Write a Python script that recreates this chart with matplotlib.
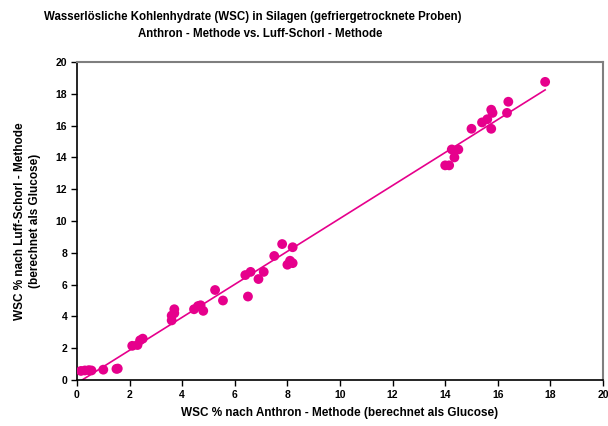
import matplotlib
matplotlib.use('Agg')
import matplotlib.pyplot as plt
import numpy as np

plt.rcParams['font.family'] = ['Liberation Sans', 'DejaVu Sans']

# WSC-Werte: Anthron (x) gegen Luff-Schorl (y), % TM
anthron = [0.15, 0.3, 0.45, 0.55, 1.0, 1.5, 1.55,
           2.1, 2.3, 2.4, 2.5,
           3.6, 3.6, 3.7, 3.7,
           4.45, 4.6, 4.7, 4.8, 5.25, 5.55,
           6.4, 6.5, 6.6, 6.9, 7.1, 7.5, 7.8, 8.0, 8.1, 8.2, 8.2,
           14.0, 14.15, 14.25, 14.35, 14.5,
           15.0, 15.4, 15.6, 15.75, 15.75, 15.8, 16.35, 16.4, 17.8]
luff = [0.57, 0.6, 0.62, 0.6, 0.65, 0.7, 0.72,
        2.15, 2.2, 2.5, 2.6,
        3.75, 4.05, 4.45, 4.2,
        4.45, 4.65, 4.7, 4.35, 5.66, 5.0,
        6.6, 5.25, 6.8, 6.35, 6.8, 7.8, 8.55, 7.25, 7.5, 7.35, 8.35,
        13.5, 13.5, 14.5, 14.0, 14.5,
        15.8, 16.2, 16.4, 17.0, 15.8, 16.8, 16.8, 17.5, 18.75]

pink = '#E6008C'

fig = plt.figure(figsize=(6.08, 4.26), dpi=100)
ax = fig.add_axes([77/608, 1-380/426, 526/608, 318/426])

ax.scatter(anthron, luff, s=50, color=pink, edgecolors='none', zorder=3)

# lineare Trendlinie
k, d = np.polyfit(anthron, luff, 1)
xs = np.array([min(anthron), max(anthron)])
ax.plot(xs, k * xs + d, color=pink, lw=1.2, zorder=2)

ax.set_xlim(0, 20)
ax.set_ylim(0, 20)
ax.set_xticks(np.arange(0, 21, 2))
ax.set_yticks(np.arange(0, 21, 2))
ax.tick_params(direction='out', length=4, width=1, labelsize=7.5, pad=3)
for lab in ax.get_xticklabels() + ax.get_yticklabels():
    lab.set_fontweight('bold')

for s in ['left', 'bottom']:
    ax.spines[s].set_color('black')
    ax.spines[s].set_linewidth(1.2)
for s in ['top', 'right']:
    ax.spines[s].set_color('#7f7f7f')
    ax.spines[s].set_linewidth(1.5)

fig.text(253/608, 1-17/426, 'Wasserlösliche Kohlenhydrate (WSC) in Silagen (gefriergetrocknete Proben)',
         ha='center', va='center', fontsize=8.3, fontweight='bold')
fig.text(260/608, 1-34/426, 'Anthron - Methode vs. Luff-Schorl - Methode',
         ha='center', va='center', fontsize=8.3, fontweight='bold')

fig.text(340/608, 1-413/426, 'WSC % nach Anthron - Methode (berechnet als Glucose)',
         ha='center', va='center', fontsize=8.5, fontweight='bold')
fig.text(20/608, 1-221/426, 'WSC % nach Luff-Schorl - Methode',
         ha='center', va='center', rotation=90, fontsize=8.5, fontweight='bold')
fig.text(35/608, 1-221/426, '(berechnet als Glucose)',
         ha='center', va='center', rotation=90, fontsize=8.5, fontweight='bold')

fig.savefig('out.png', dpi=100)
